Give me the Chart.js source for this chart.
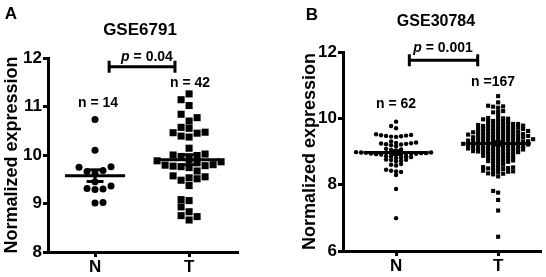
<!DOCTYPE html>
<html>
<head>
<meta charset="utf-8">
<script src="https://cdn.jsdelivr.net/npm/chart.js@4.4.0/dist/chart.umd.min.js"></script>
<style>
  body { margin: 0; background: #fff; width: 546px; height: 277px; overflow: hidden; }
  .panel { position: absolute; top: 0; width: 273px; height: 277px; }
</style>
</head>
<body>
<div class="panel" style="left:0"><canvas id="chartA" width="273" height="277"></canvas></div>
<div class="panel" style="left:273px"><canvas id="chartB" width="273" height="277"></canvas></div>
<script>
// categories and values
const categories = ['N', 'T'];

const gse6791N = [10.73, 10.10, 9.76, 9.75, 9.68, 9.66, 9.62, 9.45, 9.36, 9.31, 9.30, 9.29, 9.02, 9.01];
const gse6791T = [11.26, 11.14, 11.02, 10.84, 10.77, 10.70, 10.57, 10.55, 10.47, 10.46, 10.45, 10.39, 10.37, 10.14,
  10.02, 10.00, 9.99, 9.97, 9.91, 9.88, 9.86, 9.84, 9.80, 9.79, 9.78, 9.77, 9.76, 9.74, 9.67,
  9.57, 9.55, 9.53, 9.51, 9.48, 9.37,
  9.08, 9.06, 8.93, 8.83, 8.75, 8.73, 8.66];

const gse30784N = [9.90, 9.77, 9.70,
  9.52, 9.50, 9.49, 9.48, 9.47, 9.46, 9.45, 9.44,
  9.30, 9.27, 9.26, 9.25, 9.24, 9.23, 9.22, 9.21, 9.19, 9.16,
  9.08, 9.06, 9.05, 9.03,
  8.98, 8.97, 8.97, 8.96, 8.96, 8.95, 8.95, 8.95, 8.94, 8.94, 8.93, 8.93, 8.92, 8.92, 8.91, 8.90,
  8.86, 8.85, 8.84, 8.83, 8.82, 8.80,
  8.76, 8.75, 8.74, 8.72, 8.70,
  8.62, 8.60, 8.58,
  8.45, 8.42, 8.40, 8.38,
  8.29, 7.87, 6.99];
const gse30784T = [10.67, 10.48, 10.38, 10.36, 10.35, 10.32, 10.22, 10.20, 10.18, 10.10, 10.01, 10.00, 9.99, 9.98, 9.97,
  9.92, 9.91, 9.90, 9.89, 9.88,
  9.83, 9.83, 9.82, 9.81, 9.80, 9.80, 9.79, 9.78, 9.78, 9.77,
  9.73, 9.72, 9.72, 9.71, 9.70, 9.70, 9.69, 9.68, 9.68, 9.67,
  9.63, 9.62, 9.62, 9.61, 9.60, 9.60, 9.60, 9.59, 9.58, 9.58, 9.57,
  9.53, 9.53, 9.52, 9.51, 9.51, 9.50, 9.50, 9.49, 9.49, 9.48, 9.47, 9.47,
  9.43, 9.43, 9.42, 9.42, 9.41, 9.40, 9.40, 9.39, 9.38, 9.38, 9.37, 9.37,
  9.33, 9.33, 9.32, 9.32, 9.31, 9.31, 9.30, 9.30, 9.29, 9.29, 9.28, 9.28, 9.27,
  9.23, 9.23, 9.22, 9.22, 9.21, 9.21, 9.20, 9.20, 9.19, 9.19, 9.18, 9.18, 9.17, 9.16,
  9.13, 9.12, 9.12, 9.11, 9.10, 9.10, 9.09, 9.09, 9.08, 9.08, 9.07, 9.06,
  9.03, 9.02, 9.01, 9.01, 9.00, 9.00, 8.99, 8.98, 8.98, 8.97,
  8.93, 8.92, 8.91, 8.90, 8.89, 8.88, 8.87,
  8.83, 8.82, 8.81, 8.80, 8.79, 8.78,
  8.73, 8.72, 8.71, 8.70, 8.69, 8.68,
  8.62, 8.60, 8.58,
  8.53, 8.52, 8.51, 8.50, 8.49, 8.48, 8.47,
  8.42, 8.41, 8.40, 8.39, 8.38,
  8.34, 8.33, 8.31,
  8.25,
  7.81, 7.76, 7.54, 7.22, 6.43];

const FONT = '"Liberation Sans", Arial, sans-serif';

function mean(a) { return a.reduce((s, v) => s + v, 0) / a.length; }
function sem(a) {
  const m = mean(a);
  const sd = Math.sqrt(a.reduce((s, v) => s + (v - m) * (v - m), 0) / (a.length - 1));
  return sd / Math.sqrt(a.length);
}

// simple beeswarm: spread points sideways so they don't overlap (offsets in px -> x units)
function swarm(values, center, pxX, pxY, dx, dy) {
  const placed = [];
  const step = dx / 2;
  values.slice().sort((a, b) => a - b).forEach((v, i) => {
    const py = v * pxY;
    const sign = i % 2 ? 1 : -1;
    for (let k = 0; k < 200; k++) {
      const off = k === 0 ? 0 : (k % 2 ? sign : -sign) * Math.ceil(k / 2) * step;
      const hit = placed.some(p => Math.abs(p.off - off) < dx - 0.01 && Math.abs(p.py - py) < dy);
      if (!hit) { placed.push({ off, py, v }); break; }
    }
  });
  return placed.map(p => ({ x: center + p.off / pxX, y: p.v }));
}

function drawText(ctx, parts, cx, cy, size) {
  // parts: [[text, italic]]
  let w = 0;
  parts.forEach(([t, it]) => { ctx.font = (it ? 'italic ' : '') + 'bold ' + size + 'px ' + FONT; w += ctx.measureText(t).width; });
  let x = cx - w / 2;
  parts.forEach(([t, it]) => {
    ctx.font = (it ? 'italic ' : '') + 'bold ' + size + 'px ' + FONT;
    ctx.fillText(t, x, cy);
    x += ctx.measureText(t).width;
  });
}

const overlay = {
  id: 'overlay',
  afterDraw(chart, args, o) {
    const { ctx, scales: { x, y } } = chart;
    ctx.save();
    ctx.strokeStyle = '#000';
    ctx.fillStyle = '#000';
    ctx.lineWidth = 3;
    const seg = (x1, y1, x2, y2) => { ctx.beginPath(); ctx.moveTo(x1, y1); ctx.lineTo(x2, y2); ctx.stroke(); };
    o.groups.forEach((g, i) => {
      const c = i + 1, m = mean(g), e = sem(g);
      const ym = y.getPixelForValue(m);
      seg(x.getPixelForValue(c - o.meanHalf), ym, x.getPixelForValue(c + o.meanHalf), ym);
      const yt = y.getPixelForValue(m + e), yb = y.getPixelForValue(m - e);
      seg(x.getPixelForValue(c), yt, x.getPixelForValue(c), yb);
      seg(x.getPixelForValue(c - o.capHalf), yt, x.getPixelForValue(c + o.capHalf), yt);
      seg(x.getPixelForValue(c - o.capHalf), yb, x.getPixelForValue(c + o.capHalf), yb);
    });
    // significance bracket
    const by = y.getPixelForValue(o.bracket.y);
    const bx1 = x.getPixelForValue(o.bracket.x1), bx2 = x.getPixelForValue(o.bracket.x2);
    seg(bx1, by, bx2, by);
    seg(bx1, by - 6, bx1, by + 6);
    seg(bx2, by - 6, bx2, by + 6);
    // texts
    ctx.textBaseline = 'middle';
    ctx.textAlign = 'left';
    o.texts.forEach(t => drawText(ctx, t.parts, t.x, t.y, t.size));
    ctx.restore();
  }
};

function makeChart(id, cfg) {
  const pxX = (cfg.right - cfg.left) / (cfg.xMax - cfg.xMin);
  const pxY = (cfg.bottom - cfg.top) / (cfg.yMax - cfg.yMin);
  return new Chart(document.getElementById(id), {
    type: 'scatter',
    data: {
      datasets: [
        { data: swarm(cfg.n, 1, pxX, pxY, cfg.dx, cfg.dy), pointStyle: 'circle', pointRadius: cfg.nRadius,
          backgroundColor: '#000', borderWidth: 0 },
        { data: swarm(cfg.t, 2, pxX, pxY, cfg.dx, cfg.dy), pointStyle: 'rect', pointRadius: cfg.tRadius,
          backgroundColor: '#000', borderWidth: 0 }
      ]
    },
    options: {
      responsive: false,
      animation: false,
      devicePixelRatio: 1,
      layout: { padding: { left: cfg.padLeft, top: cfg.top, right: 273 - cfg.right, bottom: 0 } },
      plugins: {
        legend: { display: false },
        tooltip: { enabled: false },
        overlay: { groups: [cfg.n, cfg.t], meanHalf: cfg.meanHalf, capHalf: cfg.capHalf, bracket: cfg.bracket, texts: cfg.texts }
      },
      scales: {
        x: {
          type: 'linear', min: cfg.xMin, max: cfg.xMax,
          afterBuildTicks: s => { s.ticks = [{ value: 1 }, { value: 2 }]; },
          afterFit: s => { s.height = 277 - cfg.bottom; },
          ticks: { callback: v => categories[v - 1], color: '#000', padding: 0, font: { family: FONT, size: 17, weight: 'bold' } },
          grid: { drawOnChartArea: false, tickLength: 5, tickWidth: 3, color: '#000' },
          border: { color: '#000', width: 3 }
        },
        y: {
          min: cfg.yMin, max: cfg.yMax,
          afterFit: s => { s.width = cfg.left - cfg.padLeft; },
          ticks: { stepSize: cfg.yStep, color: '#000', padding: 1, font: { family: FONT, size: 17, weight: 'bold' } },
          grid: { drawOnChartArea: false, tickLength: 5, tickWidth: 3, color: '#000' },
          border: { color: '#000', width: 3 },
          title: { display: true, text: 'Normalized expression', color: '#000', padding: 0,
            font: { family: FONT, size: 18, weight: 'bold' } }
        }
      }
    },
    plugins: [overlay]
  });
}

makeChart('chartA', {
  n: gse6791N, t: gse6791T,
  padLeft: 1, left: 48, right: 238, top: 58, bottom: 252,
  xMin: 0.5, xMax: 2.52, yMin: 8, yMax: 12, yStep: 1,
  dx: 8, dy: 7, nRadius: 3.5, tRadius: 5,
  meanHalf: 0.32, capHalf: 0.09,
  bracket: { x1: 1.15, x2: 1.85, y: 11.82 },
  texts: [
    { parts: [['A', false]], x: 11, y: 14, size: 17 },
    { parts: [['GSE6791', false]], x: 140, y: 30, size: 17 },
    { parts: [['p', true], [' = 0.04', false]], x: 147, y: 57, size: 14 },
    { parts: [['n = 14', false]], x: 98, y: 103, size: 14 },
    { parts: [['n = 42', false]], x: 190, y: 83, size: 14 }
  ]
});

makeChart('chartB', {
  n: gse30784N, t: gse30784T,
  padLeft: 26, left: 70, right: 268, top: 52, bottom: 251,
  xMin: 0.48, xMax: 2.42, yMin: 6, yMax: 12, yStep: 2,
  dx: 5, dy: 3, nRadius: 2.2, tRadius: 2.9,
  meanHalf: 0.32, capHalf: 0.06,
  bracket: { x1: 1.13, x2: 1.8, y: 11.75 },
  texts: [
    { parts: [['B', false]], x: 39, y: 15, size: 17 },
    { parts: [['GSE30784', false]], x: 163, y: 22, size: 16 },
    { parts: [['p', true], [' = 0.001', false]], x: 170, y: 48, size: 14 },
    { parts: [['n = 62', false]], x: 123, y: 104, size: 14 },
    { parts: [['n =167', false]], x: 220, y: 82, size: 14 }
  ]
});
</script>
</body>
</html>
